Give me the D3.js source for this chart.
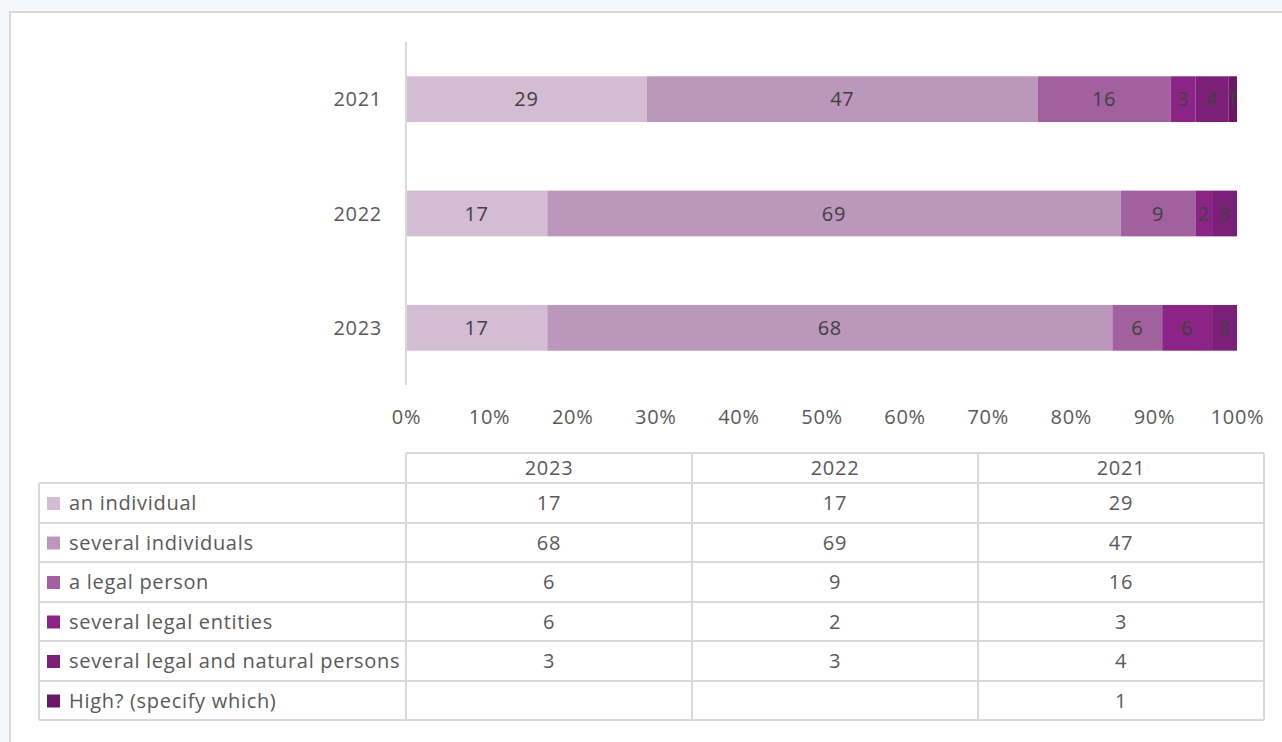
<!DOCTYPE html>
<html>
<head>
<meta charset="utf-8">
<script src="https://cdn.jsdelivr.net/npm/d3@7"></script>
<style>
  html, body { margin: 0; padding: 0; background: #f4f8fa; }
  svg { display: block; }
  text { letter-spacing: 0.7px; }
</style>
</head>
<body>
<svg id="chart" width="1282" height="742"></svg>
<script>
// Survey responses by year (percent), stacked to 100%
const years = ["2021", "2022", "2023"];
const tableYears = ["2023", "2022", "2021"];
const categories = [
  "an individual",
  "several individuals",
  "a legal person",
  "several legal entities",
  "several legal and natural persons",
  "High? (specify which)"
];
const values2021 = [29, 47, 16, 3, 4, 1];
const values2022 = [17, 69, 9, 2, 3, null];
const values2023 = [17, 68, 6, 6, 3, null];
const xTicks = [0, 10, 20, 30, 40, 50, 60, 70, 80, 90, 100];
const colors = ["#d4bcd3", "#bb97bb", "#a0619e", "#8c2487", "#7c1f79", "#6a1866"];

const valuesByYear = { "2021": values2021, "2022": values2022, "2023": values2023 };

const svg = d3.select("#chart");
const font = "'Open Sans', sans-serif";
const fontSize = 20;
const textColor = "#595959";
const gridColor = "#d9d9d9";

// white chart frame
svg.append("rect")
  .attr("x", 10).attr("y", 12).attr("width", 1290).attr("height", 760)
  .attr("fill", "#fff").attr("stroke", "#d9d9d9").attr("stroke-width", 2);

const x = d3.scaleLinear().domain([0, 100]).range([406, 1237]);
const y = d3.scaleBand().domain(years).range([42, 385]).paddingInner(0.6).paddingOuter(0.3);

// stacked bars
years.forEach(yr => {
  const vals = valuesByYear[yr];
  let acc = 0;
  const segs = vals.map((v, i) => {
    const s = { i, v: v || 0, x0: acc, x1: acc + (v || 0) };
    acc += v || 0;
    return s;
  }).filter(s => s.v > 0);
  const g = svg.append("g");
  g.selectAll("rect").data(segs).join("rect")
    .attr("x", d => x(d.x0))
    .attr("y", y(yr))
    .attr("width", d => x(d.x1) - x(d.x0))
    .attr("height", y.bandwidth())
    .attr("fill", d => colors[d.i]);
  g.selectAll("text").data(segs).join("text")
    .attr("x", d => (x(d.x0) + x(d.x1)) / 2)
    .attr("y", y(yr) + y.bandwidth() / 2)
    .attr("dy", "0.36em")
    .attr("text-anchor", "middle")
    .attr("font-family", font).attr("font-size", fontSize)
    .attr("fill", "#404040")
    .text(d => d.v);
});

// category axis line
svg.append("line")
  .attr("x1", 406).attr("x2", 406).attr("y1", 42).attr("y2", 385)
  .attr("stroke", gridColor).attr("stroke-width", 2);

// year labels
svg.append("g").selectAll("text").data(years).join("text")
  .attr("x", 382)
  .attr("y", d => y(d) + y.bandwidth() / 2)
  .attr("dy", "0.36em")
  .attr("text-anchor", "end")
  .attr("font-family", font).attr("font-size", fontSize)
  .attr("fill", textColor)
  .text(d => d);

// percent axis
const xAxis = d3.axisBottom(x).tickValues(xTicks).tickFormat(d => d + "%").tickSize(0).tickPadding(0);
const ax = svg.append("g").attr("transform", "translate(0,424)").call(xAxis);
ax.select(".domain").remove();
ax.selectAll("text")
  .attr("font-family", font).attr("font-size", fontSize)
  .attr("fill", textColor).attr("dy", 0);

// data table
const colX = [406, 692, 978, 1264];
const headTop = 453;
const rowTops = [483, 523, 562, 602, 641, 681, 720];
const tbl = svg.append("g").attr("stroke", gridColor).attr("stroke-width", 2).attr("fill", "none");

// header row
tbl.append("line").attr("x1", 406).attr("x2", 1264).attr("y1", headTop).attr("y2", headTop);
colX.forEach(cx => {
  tbl.append("line").attr("x1", cx).attr("x2", cx).attr("y1", headTop).attr("y2", rowTops[rowTops.length - 1]);
});
rowTops.forEach(ry => {
  tbl.append("line").attr("x1", 39).attr("x2", 1264).attr("y1", ry).attr("y2", ry);
});
tbl.append("line").attr("x1", 39).attr("x2", 39).attr("y1", rowTops[0]).attr("y2", rowTops[rowTops.length - 1]);

// header labels
svg.append("g").selectAll("text").data(tableYears).join("text")
  .attr("x", (d, i) => (colX[i] + colX[i + 1]) / 2)
  .attr("y", (headTop + rowTops[0]) / 2)
  .attr("dy", "0.36em")
  .attr("text-anchor", "middle")
  .attr("font-family", font).attr("font-size", fontSize)
  .attr("fill", textColor)
  .text(d => d);

// category rows with legend keys
categories.forEach((cat, i) => {
  const top = rowTops[i], bot = rowTops[i + 1];
  const cy = (top + bot) / 2;
  svg.append("rect")
    .attr("x", 47).attr("y", cy - 6).attr("width", 13).attr("height", 13)
    .attr("fill", colors[i]);
  svg.append("text")
    .attr("x", 69).attr("y", cy).attr("dy", "0.36em")
    .attr("font-family", font).attr("font-size", fontSize)
    .attr("fill", textColor)
    .text(cat);
  tableYears.forEach((yr, j) => {
    const v = valuesByYear[yr][i];
    if (v == null) return;
    svg.append("text")
      .attr("x", (colX[j] + colX[j + 1]) / 2)
      .attr("y", cy).attr("dy", "0.36em")
      .attr("text-anchor", "middle")
      .attr("font-family", font).attr("font-size", fontSize)
      .attr("fill", textColor)
      .text(v);
  });
});
</script>
</body>
</html>
